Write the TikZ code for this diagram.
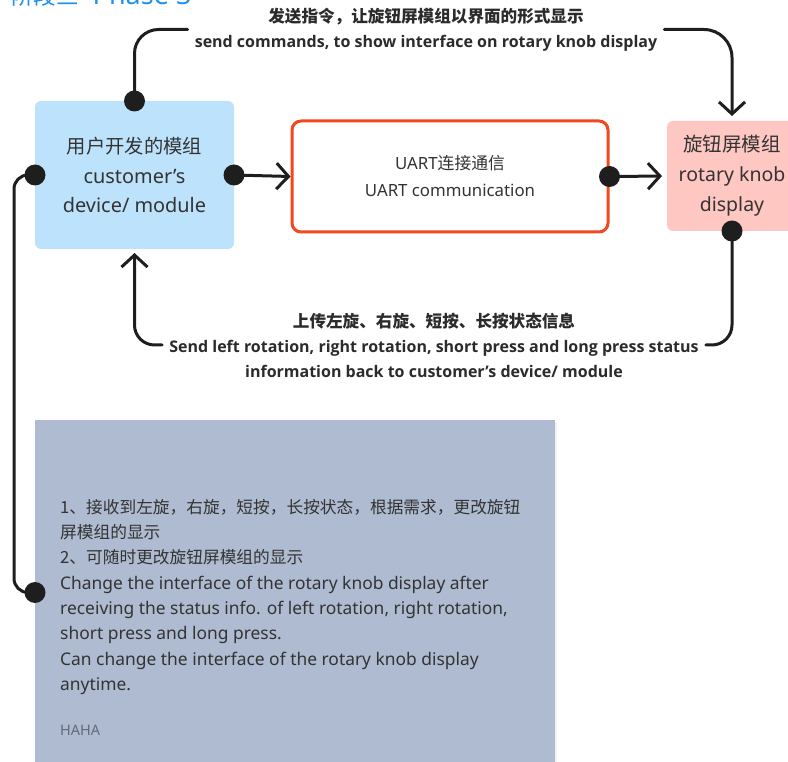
\documentclass[tikz,border=0pt]{standalone}
\usepackage{fontspec}
\setmainfont{Noto Sans}
\newfontfamily\cjk{Noto Sans CJK SC}
\newfontfamily\lblfont{Open Sans}
\usetikzlibrary{arrows.meta,shadows}
\definecolor{ink}{HTML}{1E1E1E}
\definecolor{txt}{HTML}{333333}
\definecolor{lbltxt}{HTML}{2B2B2B}
\definecolor{userblue}{HTML}{BDE3FC}
\definecolor{uartred}{HTML}{F24822}
\definecolor{knobpink}{HTML}{FFC7C2}
\definecolor{notegray}{HTML}{AEBBD0}
\definecolor{titleblue}{HTML}{1E90F0}
\definecolor{hahagray}{HTML}{646B78}
\newcommand\zh[1]{{\cjk #1}}
\newcommand\zhs[2]{{\fontsize{#1}{\baselineskip}\selectfont\cjk #2}}
\newcommand\zhb[2]{{\fontsize{#1}{\baselineskip}\selectfont\cjk\bfseries #2}}
\begin{document}
\begin{tikzpicture}[x=1pt,y=-1pt,
  box/.style={rectangle, rounded corners=6pt, outer sep=0pt, inner sep=0pt, text=txt, align=center},
  conn/.style={line width=3pt, draw=ink, line cap=round, line join=round},
  arr/.style={conn, -{Straight Barb[length=12pt,width=26pt]}},
  lbl/.style={fill=white, font=\fontsize{16pt}{25pt}\selectfont\lblfont\bfseries, text=lbltxt, align=center, inner xsep=7pt, inner ysep=0pt},
  dot/.style={fill=ink}
]
\useasboundingbox (0,0) rectangle (788,762);
\clip (0,0) rectangle (788,762);

% title (cut off at the top)
\node[anchor=base west, inner sep=0pt, text=titleblue] (title) at (11,5) {\fontsize{22.5pt}{22pt}\selectfont\zh{阶段三}\hspace{14pt}\fontsize{27pt}{27pt}\selectfont Phase 3};

% boxes
\node[box, fill=userblue, minimum width=199pt, minimum height=148pt, font=\fontsize{19.9pt}{29.5pt}\selectfont] (user) at (134.5,175) {\zhs{19.3pt}{用户开发的模组}\\customer’s\\device/ module};
\node[box, draw=uartred, line width=3pt, fill=white, rounded corners=9pt, outer sep=1.5pt, minimum width=316pt, minimum height=111pt, font=\fontsize{16.8pt}{27pt}\selectfont] (uart) at (450,176.5) {UART\zh{连接通信}\\UART communication};
\node[box, fill=knobpink, minimum width=130pt, minimum height=110pt, font=\fontsize{19.5pt}{30pt}\selectfont] (knob) at (732,176) {\zh{旋钮屏模组}\\rotary knob\\display};
\node[box, rounded corners=0pt, fill=notegray, minimum width=520pt, minimum height=345pt, drop shadow={shadow xshift=1.5pt, shadow yshift=-1.5pt, opacity=0.10}] (note) at (295,592.5) {};

\node[anchor=north west, inner sep=0pt, align=left, text=txt, font=\fontsize{17.4pt}{25.3pt}\selectfont] (notetext) at (60,499) {\zhs{16.7pt}{1、接收到左旋，右旋，短按，长按状态，根据需求，更改旋钮}\\\zhs{16.7pt}{屏模组的显示}\\\zhs{16.7pt}{2、可随时更改旋钮屏模组的显示}\\Change the interface of the rotary knob display after\\receiving the status info. of left rotation, right rotation,\\short press and long press.\\Can change the interface of the rotary knob display\\anytime.};
\node[anchor=west, inner sep=0pt, text=hahagray, font=\fontsize{14.5pt}{16pt}\selectfont] (haha) at (60,730) {HAHA};

% connector labels
\node[lbl] (lab1) at (426,29.5) {\zhb{16.6pt}{发送指令，让旋钮屏模组以界面的形式显示}\\send commands, to show interface on rotary knob display};
\node[lbl] (lab3) at (434,345) {\zhb{16.6pt}{上传左旋、右旋、短按、长按状态信息}\\Send left rotation, right rotation, short press and long press status\\information back to customer’s device/ module};

% connectors
\draw[conn, rounded corners=24pt] (user.north) |- (lab1.west);
\draw[arr, rounded corners=28pt, shorten >=5pt] (lab1.east) -| (knob.north);
\draw[conn, rounded corners=20pt] (knob.south) |- (lab3.east);
\draw[arr, rounded corners=20pt, shorten >=4pt] (lab3.west) -| (user.south);
\draw[arr] (user.east) -- (uart.west);
\draw[arr, shorten >=5pt] (uart.east) -- (knob.west);
\draw[conn, rounded corners=14pt] (user.west) -- ++(-21,0) |- (note.west);

% dots
\foreach \a in {user.north,user.east,user.west,uart.east,knob.south,note.west}
  \fill[dot] (\a) circle[radius=10.5pt];
\end{tikzpicture}
\end{document}
